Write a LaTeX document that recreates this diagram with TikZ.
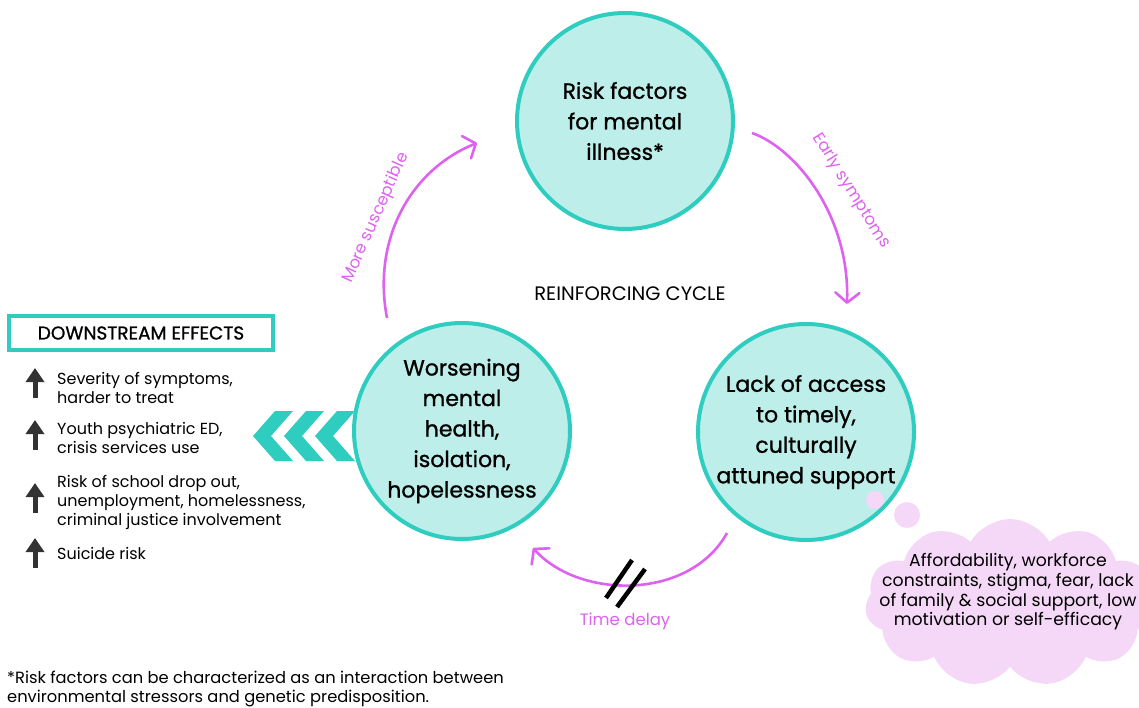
\documentclass[tikz,border=0pt]{standalone}
\usepackage{fontspec}
\setmainfont{Poppins}
\newfontfamily\medfont{Poppins}[FakeBold=1]
\usetikzlibrary{arrows.meta,shapes.symbols,positioning}
\definecolor{tealline}{RGB}{46,205,191}
\definecolor{tealfill}{RGB}{189,238,233}
\definecolor{pinkline}{RGB}{222,98,240}
\definecolor{cloudpink}{RGB}{245,216,247}
\tikzset{>={Straight Barb[length=10pt,width=24pt,round]}}
\tikzset{
  bubble/.style={circle, draw=tealline, fill=tealfill, line width=4pt,
    minimum size=216pt, inner sep=0pt, align=center,
    font=\medfont\fontsize{22}{30.5}\selectfont},
  flow/.style={pinkline, line width=2.6pt, ->},
  flowlabel/.style={pinkline, font=\fontsize{16.5}{18}\selectfont},
  effect/.style={anchor=west, align=left, inner sep=0pt,
    font=\fontsize{16}{19}\selectfont},
  uparrow/.style={black!80, line width=5pt, -{Triangle[width=18pt,length=14pt]}},
  slash/.style={line width=4.5pt},
}

\begin{document}
\begin{tikzpicture}[x=1pt,y=-1pt]

  \newcommand\chevgap{31}

  \useasboundingbox (0,0) rectangle (1139,707);

  %% the three stages of the cycle
  \node[bubble] (rf) at (625,121) {Risk factors\\for mental\\illness*};
  \node[bubble] (wm) at (462,431) {Worsening\\mental\\health,\\isolation,\\hopelessness};
  \node[bubble] (la) at (806,432) {Lack of access\\to timely,\\culturally\\attuned support};

  \node[font=\fontsize{19.5}{22}\selectfont] (cyc) at (630,294) {REINFORCING CYCLE};

  %% arcs between the stages
  \coordinate (ms-a) at (387,318);
  \coordinate (ms-b) at (477,143);
  \draw[flow] (ms-a) .. controls (372,240) and (410,170) .. (ms-b);
  \node[flowlabel, rotate=66] (ms) at (376,218) {More susceptible};

  \coordinate (es-a) at (752,133);
  \coordinate (es-b) at (847,304);
  \draw[flow] (es-a) .. controls (795,148) and (850,215) .. (es-b);
  \node[flowlabel, rotate=-58] (es) at (851,191) {Early symptoms};

  \coordinate (td-a) at (727,533);
  \coordinate (td-b) at (533,548);
  \draw[flow] (td-a) .. controls (690,600) and (580,600) .. (td-b);
  \node[flowlabel] (td) at (625,621) {Time delay};

  % delay mark
  \coordinate (gap) at (625,583);
  \draw[slash] (gap) ++(7,-23) -- ++(-26,38);
  \draw[slash] (gap) ++(20,-14) -- ++(-28,38);

  %% thought cloud
  \node[cloud, cloud puffs=11, cloud puff arc=120, aspect=1.8, fill=cloudpink,
    minimum width=290pt, minimum height=168pt] (cl) at (1010,603) {};
  \node[circle, fill=cloudpink, minimum size=18pt, inner sep=0pt] (b1) at (875,500) {};
  \node[circle, fill=cloudpink, minimum size=26pt, inner sep=0pt] (b2) at (907,515) {};
  \node[align=center, font=\fontsize{17.3}{19.7}\selectfont] (why) at (1008,592)
    {Affordability, workforce\\constraints, stigma, fear, lack\\of family \& social support, low\\motivation or self-efficacy};

  %% downstream effects
  \foreach \i in {0,1,2}
    \fill[tealline, shift={(253+\chevgap*\i,436)}]
      (0,0) -- (22,-25) -- (40,-25) -- (18,0) -- (40,25) -- (22,25) -- cycle;

  \node[draw=tealline, line width=4pt, minimum width=264pt, minimum height=34pt,
    font=\medfont\fontsize{18.5}{20}\selectfont] (ds) at (141,333) {DOWNSTREAM EFFECTS};

  \node[effect] (e1) at (57,388) {Severity of symptoms,\\harder to treat};
  \node[effect] (e2) at (57,438) {Youth psychiatric ED,\\crisis services use};
  \node[effect] (e3) at (57,502) {Risk of school drop out,\\unemployment, homelessness,\\criminal justice involvement};
  \node[effect] (e4) at (57,553) {Suicide risk};

  \foreach \y in {398,450,513,568}
    \draw[uparrow] (35,\y) -- ++(0,-30);

  %% footnote
  \node[effect, font=\fontsize{16.3}{19}\selectfont] (note) at (7,689)
    {*Risk factors can be characterized as an interaction between\\environmental stressors and genetic predisposition.};

\end{tikzpicture}
\end{document}
